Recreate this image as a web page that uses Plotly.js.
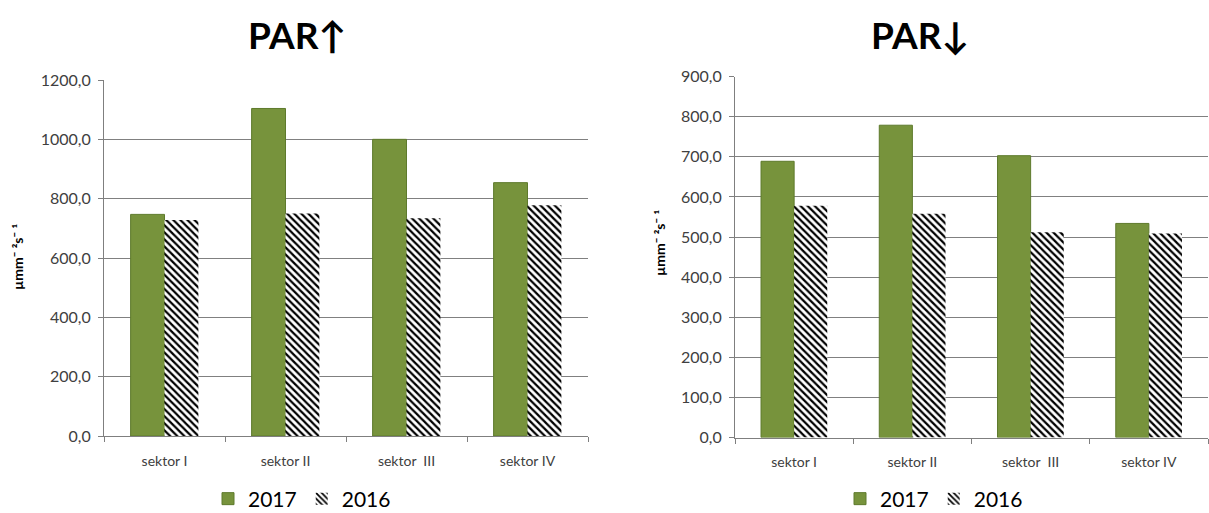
<!DOCTYPE html>
<html>
<head>
<meta charset="utf-8">
<script src="https://cdn.plot.ly/plotly-3.0.1.min.js"></script>
<style>html,body{margin:0;padding:0;background:#fff;}#chart{width:1209px;height:513px;}</style>
</head>
<body>
<div id="chart"></div>
<script>
const categories = ["sektor I", "sektor II", "sektor  III", "sektor IV"];
const parUp2017 = [747, 1104, 1000, 854];
const parUp2016 = [728, 750, 734, 778];
const parDown2017 = [689, 779, 703, 534];
const parDown2016 = [578, 558, 512, 509];
const seriesNames = ["2017", "2016"];
const titles = ["PAR↑", "PAR↓"];
const yTitle = "µmm¯ ²s¯ ¹";

const FONT = "Lato, 'Open Sans', sans-serif";
const green = "#77933C";
const greenLine = "#5E7A2C";
const hatch = {shape: "\\", fgcolor: "#000", bgcolor: "#fff", size: 5, solidity: 0.45};

const W = 1209, BM = 40, PH = 513 - BM;
const py = p => 1 - p / PH;

function mk(y, name, xa, ya, leg, isHatch) {
  return {
    type: "bar", x: categories, y: y, name: name, xaxis: xa, yaxis: ya, legend: leg,
    marker: isHatch ? {color: "#fff", pattern: hatch, line: {width: 0}}
                    : {color: green, line: {color: greenLine, width: 1}},
    hoverinfo: "skip"
  };
}

const data = [
  mk(parUp2017, seriesNames[0], "x", "y", "legend", false),
  mk(parUp2016, seriesNames[1], "x", "y", "legend", true),
  mk(parDown2017, seriesNames[0], "x2", "y2", "legend2", false),
  mk(parDown2016, seriesNames[1], "x2", "y2", "legend2", true)
];

const xBase = {
  type: "category", showline: true, linecolor: "#7f7f7f", linewidth: 1,
  ticks: "outside", tickson: "boundaries", ticklen: 5, tickcolor: "#7f7f7f", ticklabelstandoff: 12,
  tickfont: {family: FONT, size: 14, color: "#404040"}, showgrid: false, fixedrange: true
};
const yBase = {
  showline: true, linecolor: "#7f7f7f", linewidth: 1, ticks: "outside", ticklen: 5,
  tickcolor: "#7f7f7f", gridcolor: "#808080", gridwidth: 1, zeroline: false, ticklabelstandoff: 4,
  tickformat: ".1f", tickfont: {family: FONT, size: 16, color: "#404040"}, fixedrange: true
};

const legBase = {orientation: "h", xanchor: "center", yanchor: "middle", yref: "container", y: 14/513,
  font: {family: FONT, size: 21, color: "#000"}, itemwidth: 30, bgcolor: "rgba(0,0,0,0)"};

const layout = {
  width: W, height: 513,
  margin: {l: 0, r: 0, t: 0, b: BM},
  paper_bgcolor: "#fff", plot_bgcolor: "#fff",
  separators: ", ",
  barmode: "group", bargap: 0.44, bargroupgap: 0,
  font: {family: FONT, color: "#000"},
  xaxis: Object.assign({}, xBase, {domain: [104/W, 588/W], anchor: "y"}),
  yaxis: Object.assign({}, yBase, {domain: [py(436), py(80)], range: [0, 1200], dtick: 200, anchor: "x"}),
  xaxis2: Object.assign({}, xBase, {domain: [735/W, 1208/W], anchor: "y2"}),
  yaxis2: Object.assign({}, yBase, {domain: [py(437.5), py(76.7)], range: [0, 900], dtick: 100, anchor: "x2"}),
  legend: Object.assign({}, legBase, {x: 302/W}),
  legend2: Object.assign({}, legBase, {x: 934/W}),
  annotations: [
    {text: "<b>" + titles[0] + "</b>", xref: "paper", yref: "paper", x: 297/W, y: py(35),
     xanchor: "center", yanchor: "middle", showarrow: false, font: {family: FONT, size: 37, color: "#000"}},
    {text: "<b>" + titles[1] + "</b>", xref: "paper", yref: "paper", x: 920/W, y: py(35),
     xanchor: "center", yanchor: "middle", showarrow: false, font: {family: FONT, size: 37, color: "#000"}},
    {text: "<b>" + yTitle + "</b>", xref: "paper", yref: "paper", x: 17/W, y: py(257),
     xanchor: "center", yanchor: "middle", showarrow: false, textangle: -90, font: {family: FONT, size: 14, color: "#000"}},
    {text: "<b>" + yTitle + "</b>", xref: "paper", yref: "paper", x: 659/W, y: py(243),
     xanchor: "center", yanchor: "middle", showarrow: false, textangle: -90, font: {family: FONT, size: 14, color: "#000"}}
  ]
};

Plotly.newPlot("chart", data, layout, {staticPlot: true, displayModeBar: false});
</script>
</body>
</html>
